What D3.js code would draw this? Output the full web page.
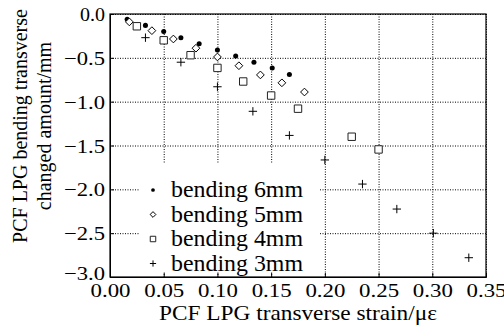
<!DOCTYPE html>
<html>
<head>
<meta charset="utf-8">
<script src="https://cdn.jsdelivr.net/npm/d3@7"></script>
<style>
  body { margin: 0; background: #fff; }
</style>
</head>
<body>
<div id="chart"></div>
<script>
// Dados
var series_names = ['bending 6mm', 'bending 5mm', 'bending 4mm', 'bending 3mm'];
var x_6mm = [0.016, 0.033, 0.050, 0.066, 0.083, 0.100, 0.117, 0.134, 0.151, 0.167];
var y_6mm = [-0.06, -0.13, -0.20, -0.27, -0.34, -0.41, -0.48, -0.55, -0.615, -0.69];
var x_5mm = [0.018, 0.039, 0.059, 0.080, 0.100, 0.120, 0.140, 0.160, 0.181];
var y_5mm = [-0.09, -0.19, -0.285, -0.39, -0.49, -0.59, -0.695, -0.785, -0.89];
var x_4mm = [0.025, 0.050, 0.075, 0.100, 0.124, 0.150, 0.175, 0.225, 0.250];
var y_4mm = [-0.14, -0.30, -0.47, -0.615, -0.77, -0.93, -1.08, -1.40, -1.545];
var x_3mm = [0.033, 0.066, 0.100, 0.133, 0.167, 0.200, 0.235, 0.267, 0.301, 0.334];
var y_3mm = [-0.27, -0.55, -0.83, -1.11, -1.385, -1.665, -1.94, -2.225, -2.50, -2.78];
var x_ticks = [0, 0.05, 0.10, 0.15, 0.20, 0.25, 0.30, 0.35];
var y_ticks = [0, -0.5, -1.0, -1.5, -2.0, -2.5, -3.0];
var x_title = 'PCF LPG transverse strain/\u03bc\u03b5';
var y_title = ['PCF LPG bending transverse', 'changed amount/mm'];

var font = '"Liberation Serif", "Times New Roman", serif';

// Criar SVG
var chart_width  = 504;
var chart_height = 329;
var margin = { left: 110, right: 18, top: 14, bottom: 52 };
var plot_w = chart_width - margin.left - margin.right;
var plot_h = chart_height - margin.top - margin.bottom;

var svg = d3.select('#chart')
    .append('svg')
    .attr('width', chart_width)
    .attr('height', chart_height)
    .style('font-family', font);

var g = svg.append('g')
    .attr('transform', 'translate(' + margin.left + ',' + margin.top + ')');

// Escalas
var x_scale = d3.scaleLinear().domain([0, 0.35]).range([0, plot_w]);
var y_scale = d3.scaleLinear().domain([-3, 0]).range([plot_h, 0]);

// Grade pontilhada
g.append('g')
    .call(d3.axisBottom(x_scale).tickValues(x_ticks).tickSize(plot_h).tickFormat(''))
    .call(function(a){ a.select('.domain').remove(); })
    .selectAll('line')
    .attr('stroke', '#000')
    .attr('stroke-dasharray', '1,1.5');

g.append('g')
    .call(d3.axisLeft(y_scale).tickValues(y_ticks).tickSize(-plot_w).tickFormat(''))
    .call(function(a){ a.select('.domain').remove(); })
    .selectAll('line')
    .attr('stroke', '#000')
    .attr('stroke-dasharray', '1,1.5');

// Caixa branca da legenda (cobre a grade)
var legend_x = 30, legend_y = 150;
g.append('rect')
    .attr('x', legend_x)
    .attr('y', legend_y)
    .attr('width', 180)
    .attr('height', 108)
    .attr('fill', '#fff');

// Eixos com rotulos
var x_axis = g.append('g')
    .attr('transform', 'translate(0,' + plot_h + ')')
    .call(d3.axisBottom(x_scale).tickValues(x_ticks).tickSize(-4).tickPadding(6).tickFormat(d3.format('.2f')));
x_axis.selectAll('text')
    .style('font-family', font)
    .attr('font-size', 19)
    .attr('dy', '0.72em')
    .attr('textLength', 40)
    .attr('lengthAdjust', 'spacingAndGlyphs');

var y_axis = g.append('g')
    .call(d3.axisLeft(y_scale).tickValues(y_ticks).tickSize(-4).tickPadding(5).tickFormat(d3.format('.1f')));
y_axis.selectAll('text')
    .style('font-family', font)
    .attr('font-size', 19)
    .attr('dy', function(d){ return d === -3 ? '0.15em' : '0.35em'; })
    .attr('textLength', function(d){ return d === 0 ? 25 : 41; })
    .attr('lengthAdjust', 'spacingAndGlyphs');

svg.selectAll('.domain').attr('stroke', '#000');
svg.selectAll('.tick line').attr('stroke', '#000');

// Moldura
g.append('rect')
    .attr('width', plot_w)
    .attr('height', plot_h)
    .attr('fill', 'none')
    .attr('stroke', '#000')
    .attr('stroke-width', 1.2);

// Simbolos
var symbols = [
    { type: d3.symbolCircle, size: 20, fill: '#000', stroke: 'none' },
    { type: d3.symbolDiamond2, size: 38, fill: '#fff', stroke: '#000' },
    { type: d3.symbolSquare2, size: 70, fill: '#fff', stroke: '#222' },
    { type: d3.symbolPlus, size: 70, fill: 'none', stroke: '#000' }
];
var xs = [x_6mm, x_5mm, x_4mm, x_3mm];
var ys = [y_6mm, y_5mm, y_4mm, y_3mm];

function symbol_path(s, size) {
    if (s.type === d3.symbolPlus) {
        var h = Math.sqrt(size) / 2;
        return 'M' + (-h) + ',0H' + h + 'M0,' + (-h) + 'V' + h;
    }
    return d3.symbol().type(s.type).size(size)();
}

xs.forEach(function(xv, k){
    var pts = xv.map(function(d, i){ return [d, ys[k][i]]; });
    g.append('g').selectAll('path')
        .data(pts)
        .enter()
        .append('path')
        .attr('d', symbol_path(symbols[k], symbols[k].size))
        .attr('transform', function(d){ return 'translate(' + x_scale(d[0]) + ',' + y_scale(d[1]) + ')'; })
        .attr('fill', symbols[k].fill)
        .attr('stroke', symbols[k].stroke)
        .attr('stroke-width', 1);
});

// Legenda
var legend = g.append('g');
series_names.forEach(function(name, k){
    var ly = legend_y + 33 + k * 24.5;
    legend.append('path')
        .attr('d', symbol_path(symbols[k], symbols[k].size * 0.55))
        .attr('transform', 'translate(' + (legend_x + 13) + ',' + (ly - 7) + ')')
        .attr('fill', symbols[k].fill)
        .attr('stroke', symbols[k].stroke)
        .attr('stroke-width', 1);
    legend.append('text')
        .attr('x', legend_x + 31)
        .attr('y', ly)
        .attr('font-size', 23)
        .attr('textLength', 132)
        .attr('lengthAdjust', 'spacingAndGlyphs')
        .text(name);
});

// Titulos dos eixos
svg.append('text')
    .attr('x', margin.left + plot_w / 2)
    .attr('y', 320)
    .attr('text-anchor', 'middle')
    .attr('font-size', 21)
    .attr('textLength', 278)
    .attr('lengthAdjust', 'spacingAndGlyphs')
    .text(x_title);

var yt = svg.append('text')
    .attr('transform', 'translate(27,126) rotate(-90)')
    .attr('text-anchor', 'middle')
    .attr('font-size', 20);
yt.append('tspan').attr('x', 0).attr('y', 0).text(y_title[0]);
yt.append('tspan').attr('x', 0).attr('y', 24).text(y_title[1]);
</script>
</body>
</html>
